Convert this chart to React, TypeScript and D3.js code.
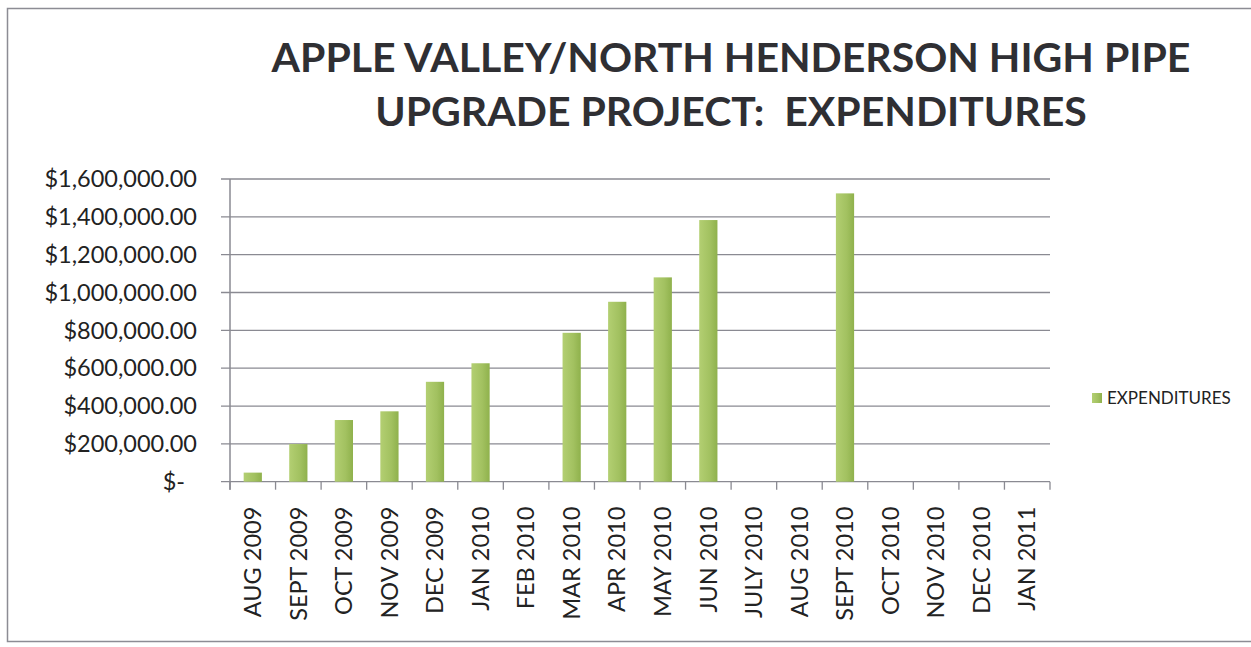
import React from "react";
import * as d3 from "d3";

const categories = [
  "AUG 2009", "SEPT 2009", "OCT 2009", "NOV 2009", "DEC 2009", "JAN 2010",
  "FEB 2010", "MAR 2010", "APR 2010", "MAY 2010", "JUN 2010", "JULY 2010",
  "AUG 2010", "SEPT 2010", "OCT 2010", "NOV 2010", "DEC 2010", "JAN 2011",
];
const expenditures: (number | null)[] = [
  48000, 199000, 326000, 372000, 528000, 626000,
  null, 787000, 951000, 1080000, 1383000, null,
  null, 1524000, null, null, null, null,
];
const yTicks = [0, 200000, 400000, 600000, 800000, 1000000, 1200000, 1400000, 1600000];
const titleLines = ["APPLE VALLEY/NORTH HENDERSON HIGH PIPE", "UPGRADE PROJECT:  EXPENDITURES"];
const seriesName = "EXPENDITURES";

const W = 1251, H = 647;
const plot = { left: 230, right: 1050, top: 179, bottom: 481.7 };
const FONT = "Lato, 'Open Sans', sans-serif";
const GRID = "#8a8a92";

export default function App() {
  const x = d3.scaleBand<string>().domain(categories).range([plot.left, plot.right]).paddingInner(0.6).paddingOuter(0.3);
  const band = d3.scaleBand<string>().domain(categories).range([plot.left, plot.right]);
  const y = d3.scaleLinear().domain([0, 1600000]).range([plot.bottom, plot.top]);
  const fmt = d3.format("$,.2f");
  const tickLabel = (v: number) => (v === 0 ? "$-" : fmt(v));
  const boundaries = d3.range(categories.length + 1).map((i) => plot.left + i * band.step());

  return (
    <svg width={W} height={H} viewBox={`0 0 ${W} ${H}`} style={{ position: "absolute", left: 0, top: 0, background: "#fff" }}>
      <defs>
        <linearGradient id="barGrad" x1="0" x2="1" y1="0" y2="0">
          <stop offset="0%" stopColor="#b3cf72" />
          <stop offset="60%" stopColor="#a2c160" />
          <stop offset="100%" stopColor="#8fb14c" />
        </linearGradient>
      </defs>
      <rect x={0} y={0} width={W} height={H} fill="#fff" />
      <path d={`M${W} 8.5 H7.5 V641.5 H${W}`} fill="none" stroke="#8c8c94" strokeWidth={1.5} />

      {titleLines.map((t, i) => (
        <text key={t} x={731} y={72 + i * 54} textAnchor="middle" fontFamily={FONT} fontWeight={700} fontSize={41} fill="#2f2f33" style={{ whiteSpace: "pre" }}>
          {t}
        </text>
      ))}

      {yTicks.map((v) => (
        <g key={v}>
          <line x1={plot.left - 9} x2={plot.right} y1={y(v)} y2={y(v)} stroke={GRID} strokeWidth={1.3} />
          <text x={v === 0 ? 185 : 197} y={y(v)} dy="0.35em" textAnchor="end" fontFamily={FONT} fontSize={23.5} fill="#222">
            {tickLabel(v)}
          </text>
        </g>
      ))}

      <line x1={plot.left} x2={plot.left} y1={plot.top} y2={plot.bottom + 8} stroke={GRID} strokeWidth={1.5} />
      {boundaries.map((bx, i) => (
        <line key={i} x1={bx} x2={bx} y1={plot.bottom} y2={plot.bottom + 8} stroke={GRID} strokeWidth={1.3} />
      ))}

      {categories.map((c, i) => {
        const v = expenditures[i];
        if (v == null) return null;
        return <rect key={c} x={x(c)} width={x.bandwidth()} y={y(v)} height={y(0) - y(v)} fill="url(#barGrad)" />;
      })}

      {categories.map((c) => {
        const cx = (band(c) as number) + band.bandwidth() / 2;
        return (
          <text key={c} transform={`translate(${cx},${plot.bottom + 25}) rotate(-90)`} textAnchor="end" dy="0.35em" fontFamily={FONT} fontSize={23.5} fill="#222">
            {c}
          </text>
        );
      })}

      <rect x={1092} y={393} width={10} height={10} fill="url(#barGrad)" />
      <text x={1107} y={398} dy="0.35em" fontFamily={FONT} fontSize={17} fill="#222">{seriesName}</text>
    </svg>
  );
}
